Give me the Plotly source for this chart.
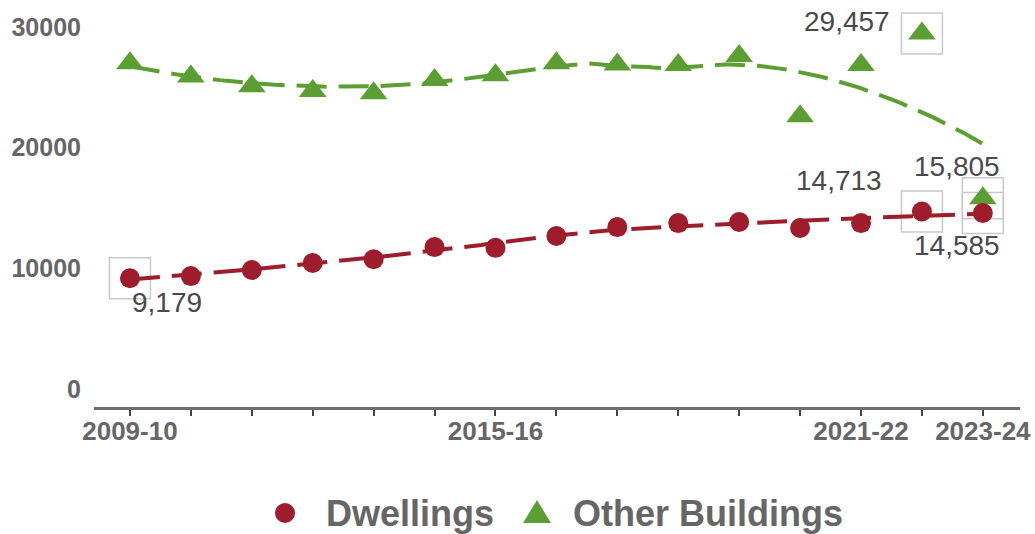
import numpy as np
import plotly.graph_objects as go

# ---- data -------------------------------------------------------------
years = ["2009-10", "2010-11", "2011-12", "2012-13", "2013-14", "2014-15",
         "2015-16", "2016-17", "2017-18", "2018-19", "2019-20", "2020-21",
         "2021-22", "2022-23", "2023-24"]
dwellings = [9179, 9360, 9860, 10440, 10750, 11760, 11700, 12680,
             13420, 13750, 13840, 13340, 13750, 14713, 14585]
other_buildings = [27000, 25900, 25100, 24700, 24500, 25600, 26000, 27000,
                   26900, 26850, 27600, 22600, 26850, 29457, 15805]
labelled_years = ["2009-10", "2015-16", "2021-22", "2023-24"]
y_ticks = [0, 10000, 20000, 30000]

# ---- styling ----------------------------------------------------------
W, H = 1035, 534
L, R, T, B = 94, 15, 10, 127
RED = "#9e1c2c"
GREEN = "#5b9e32"
AXIS_TXT = "#666666"
FONT = "Liberation Sans, Arial, sans-serif"

x_idx = np.arange(len(years))
fine_x = np.linspace(0, len(years) - 1, 200)


def loess(xs, ys, grid, frac=0.75, deg=2):
    """Local weighted (tricube) polynomial regression evaluated on grid."""
    xs = np.asarray(xs, float)
    ys = np.asarray(ys, float)
    k = int(np.ceil(frac * len(xs)))
    out = []
    for x0 in grid:
        d = np.abs(xs - x0)
        h = np.sort(d)[k - 1]
        w = np.sqrt(np.clip(1 - (d / h) ** 3, 0, 1) ** 3)
        A = np.vander(xs - x0, deg + 1)
        coef = np.linalg.lstsq(A * w[:, None], ys * w, rcond=None)[0]
        out.append(coef[-1])
    return np.array(out)


dw_trend = loess(x_idx, dwellings, fine_x)
ob_trend = loess(x_idx, other_buildings, fine_x)

fig = go.Figure()

# highlight boxes behind the labelled points
box_style = dict(symbol="square-open", size=41, color="#c9c9c9",
                 line=dict(width=1.5, color="#c9c9c9"))
dw_boxes = [0, 13, 14]
ob_boxes = [13, 14]
fig.add_trace(go.Scatter(x=[x_idx[i] for i in dw_boxes], y=[dwellings[i] for i in dw_boxes],
                         mode="markers", marker=box_style, hoverinfo="skip",
                         cliponaxis=False))
fig.add_trace(go.Scatter(x=[x_idx[i] for i in ob_boxes], y=[other_buildings[i] for i in ob_boxes],
                         mode="markers", marker=box_style, hoverinfo="skip",
                         cliponaxis=False))

dash = "30px,12px"
fig.add_trace(go.Scatter(x=fine_x, y=ob_trend, mode="lines",
                         line=dict(color=GREEN, width=4, dash=dash),
                         hoverinfo="skip", cliponaxis=False))
fig.add_trace(go.Scatter(x=fine_x, y=dw_trend, mode="lines",
                         line=dict(color=RED, width=4, dash=dash),
                         hoverinfo="skip", cliponaxis=False))

fig.add_trace(go.Scatter(x=x_idx, y=other_buildings, mode="markers", name="Other Buildings",
                         marker=dict(symbol="triangle-up", size=24, color=GREEN),
                         cliponaxis=False))
fig.add_trace(go.Scatter(x=x_idx, y=dwellings, mode="markers", name="Dwellings",
                         marker=dict(symbol="circle", size=20, color=RED),
                         cliponaxis=False))

# value labels
label_font = dict(family=FONT, size=28, color="#4a4a4a")
value_labels = [
    (dwellings, 0, 37, -24),
    (dwellings, 13, -83, 31),
    (dwellings, 14, -26, -32),
    (other_buildings, 13, -75, 12),
    (other_buildings, 14, -26, 32),
]
annotations = []
for series, i, dx, dy in value_labels:
    annotations.append(dict(x=x_idx[i], y=series[i], xref="x", yref="y",
                            text=f"{series[i]:,}", showarrow=False,
                            xanchor="center", yanchor="middle",
                            xshift=dx, yshift=dy, font=label_font))

# legend drawn below the axis
plot_w = W - L - R
plot_h = H - T - B


def px_x(px):
    return (px - L) / plot_w


def px_y(py):
    return (H - B - py) / plot_h


legend_font = dict(family=FONT, size=36, color=AXIS_TXT, weight="bold")
legend_y = 513
annotations.append(dict(x=px_x(324), y=px_y(legend_y), xref="paper", yref="paper",
                        text="Dwellings", showarrow=False, xanchor="left",
                        yanchor="middle", font=legend_font))
annotations.append(dict(x=px_x(571), y=px_y(legend_y), xref="paper", yref="paper",
                        text="Other Buildings", showarrow=False, xanchor="left",
                        yanchor="middle", font=legend_font))

shapes = [
    dict(type="circle", xref="paper", yref="paper",
         xsizemode="pixel", ysizemode="pixel",
         xanchor=px_x(285), yanchor=px_y(legend_y),
         x0=-10, x1=10, y0=-10, y1=10,
         fillcolor=RED, line=dict(width=0)),
    dict(type="path", xref="paper", yref="paper",
         xsizemode="pixel", ysizemode="pixel",
         xanchor=px_x(537), yanchor=px_y(legend_y),
         path="M -14,-10 L 14,-10 L 0,13 Z",
         fillcolor=GREEN, line=dict(width=0)),
]

# y range chosen so 0 and 30000 sit where the axis labels are placed
px_per_unit = (389 - 27) / 30000
y_min = -((H - B) - 389) / px_per_unit
y_max = 30000 + (27 - T) / px_per_unit

fig.update_layout(
    width=W, height=H,
    margin=dict(l=L, r=R, t=T, b=B, pad=0),
    template="none",
    paper_bgcolor="white", plot_bgcolor="white",
    showlegend=False,
    annotations=annotations,
    shapes=shapes,
    font=dict(family=FONT),
)
fig.update_xaxes(
    range=[-0.59, len(years) - 1 + 0.61],
    tickvals=list(x_idx),
    ticktext=[y if y in labelled_years else "" for y in years],
    ticks="outside", ticklen=6, tickwidth=2, tickcolor="#444444",
    showline=True, linecolor="#6e6e6e", linewidth=2.5,
    showgrid=False, zeroline=False, automargin=False,
    tickfont=dict(family=FONT, size=26, color=AXIS_TXT, weight="bold"),
    ticklabelstandoff=-7,
)
fig.update_yaxes(
    range=[y_min, y_max],
    tickvals=y_ticks, ticktext=[str(v) for v in y_ticks],
    ticks="", showline=False, showgrid=False, zeroline=False, automargin=False,
    tickfont=dict(family=FONT, size=25, color=AXIS_TXT, weight="bold"),
    ticklabelstandoff=12,
)

fig.write_html("out.html")
